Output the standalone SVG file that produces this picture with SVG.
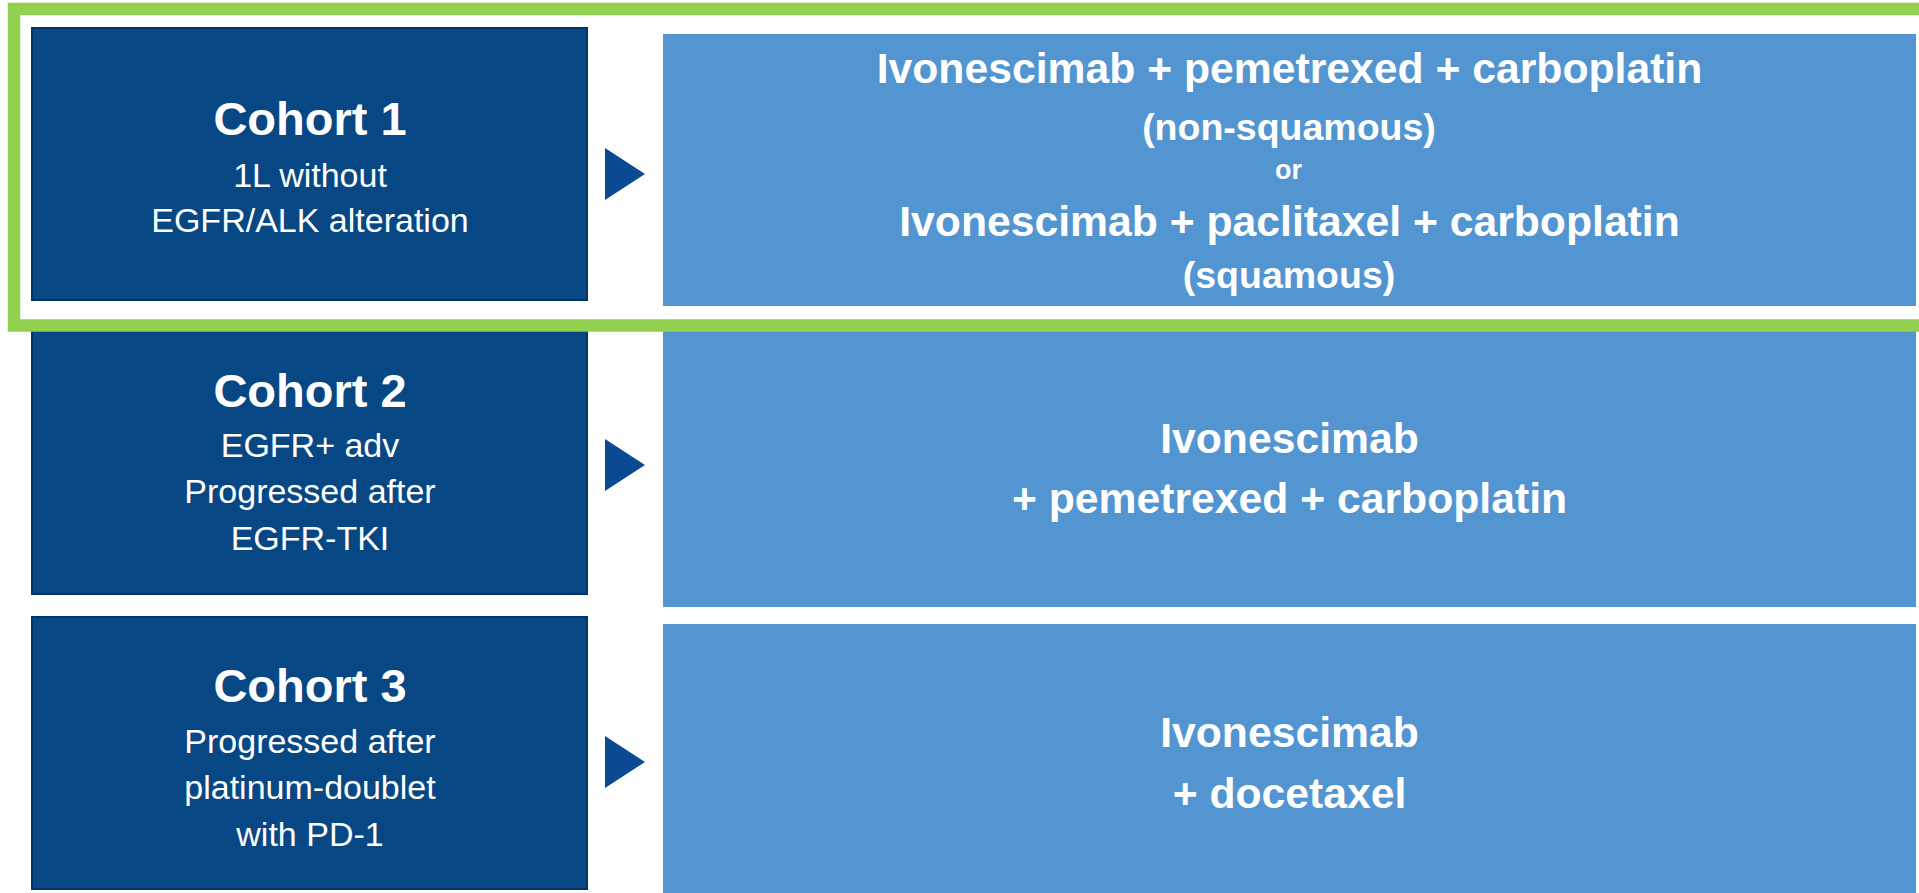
<svg xmlns="http://www.w3.org/2000/svg" width="1919" height="893" viewBox="0 0 1919 893">
<style>
.cohort{fill:#074784;stroke:#053564;stroke-width:2}
.regimen{fill:#5295d1}
.arrow{fill:#0a4a93}
.t{fill:#ffffff;text-anchor:middle;font-family:"Liberation Sans",Arial,sans-serif}
.ct{font-size:47px;font-weight:bold}
.cs{font-size:34px}
.rt{font-size:42.7px;font-weight:bold}
.rp{font-size:37.5px;font-weight:bold}
.ro{font-size:27px;font-weight:bold}
</style>
<rect width="1919" height="893" fill="#ffffff"/>
<g id="cohort1">
<rect class="cohort" x="32" y="28" width="555" height="272"/>
<text class="t ct" x="310" y="135">Cohort 1</text>
<text class="t cs" x="310" y="187">1L without</text>
<text class="t cs" x="310" y="232">EGFR/ALK alteration</text>
</g>
<g id="regimen1">
<rect class="regimen" x="663" y="34" width="1253" height="272"/>
<text class="t rt" x="1289.5" y="83">Ivonescimab + pemetrexed + carboplatin</text>
<text class="t rp" x="1289" y="140">(non-squamous)</text>
<text class="t ro" x="1288.5" y="179">or</text>
<text class="t rt" x="1289.5" y="236">Ivonescimab + paclitaxel + carboplatin</text>
<text class="t rp" x="1289" y="288">(squamous)</text>
</g>
<g id="cohort2">
<rect class="cohort" x="32" y="326" width="555" height="268"/>
<text class="t ct" x="310" y="407">Cohort 2</text>
<text class="t cs" x="310" y="457">EGFR+ adv</text>
<text class="t cs" x="310" y="503">Progressed after</text>
<text class="t cs" x="310" y="550">EGFR-TKI</text>
</g>
<g id="regimen2">
<rect class="regimen" x="663" y="326" width="1253" height="281"/>
<text class="t rt" x="1289.5" y="453">Ivonescimab</text>
<text class="t rt" x="1289.5" y="513">+ pemetrexed + carboplatin</text>
</g>
<g id="cohort3">
<rect class="cohort" x="32" y="617" width="555" height="272"/>
<text class="t ct" x="310" y="702">Cohort 3</text>
<text class="t cs" x="310" y="753">Progressed after</text>
<text class="t cs" x="310" y="799">platinum-doublet</text>
<text class="t cs" x="310" y="846">with PD-1</text>
</g>
<g id="regimen3">
<rect class="regimen" x="663" y="624" width="1253" height="275"/>
<text class="t rt" x="1289.5" y="747">Ivonescimab</text>
<text class="t rt" x="1289.5" y="808">+ docetaxel</text>
</g>
<g id="connectors">
<polygon class="arrow" points="605,148 645,174 605,200"/>
<polygon class="arrow" points="605,439 645,465 605,491"/>
<polygon class="arrow" points="605,736 645,762 605,788"/>
</g>
<g id="highlight">
<rect x="14" y="9" width="1920" height="316.5" fill="none" stroke="#92d050" stroke-width="12.5"/>
</g>
</svg>
